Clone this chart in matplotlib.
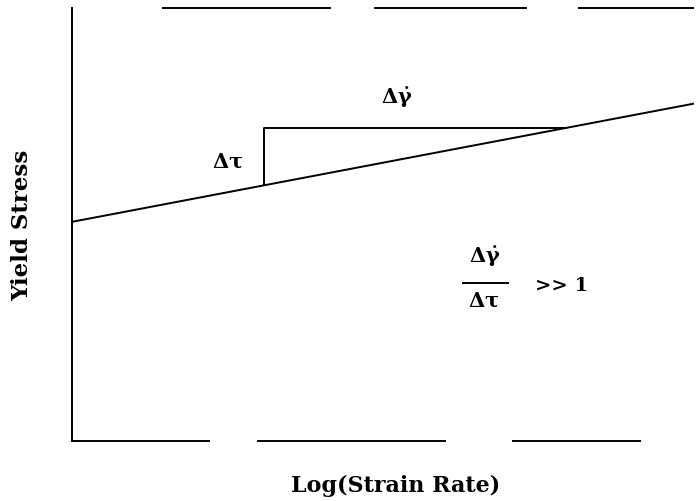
import matplotlib
matplotlib.use('Agg')
import matplotlib.pyplot as plt

# ---- data (arbitrary units: x = log strain rate, y = yield stress) ----
strain_x = [0.0, 10.0]
stress_y = [5.05, 7.77]

# slope triangle drawn on the yield line
tri_x = [3.09, 3.09, 7.96]
tri_y = [5.89, 7.21, 7.21]

# frame pieces (the printed border is broken into segments)
bottom_segs = [(0.0, 2.2), (3.0, 6.0), (7.1, 9.15)]
top_segs = [(1.46, 4.15), (4.88, 7.31), (8.16, 10.0)]

plt.rcParams['mathtext.fontset'] = 'custom'
plt.rcParams['mathtext.default'] = 'rm'
plt.rcParams['mathtext.rm'] = 'DejaVu Serif:bold'
plt.rcParams['mathtext.it'] = 'DejaVu Serif:bold'
plt.rcParams['mathtext.bf'] = 'DejaVu Serif:bold'

fig = plt.figure(figsize=(6.96, 5.01), dpi=100)
ax = fig.add_axes([72 / 696, 60 / 501, 621 / 696, 434 / 501])
ax.set_xlim(0, 10)
ax.set_ylim(0, 10)
for s in ax.spines.values():
    s.set_visible(False)
ax.set_xticks([])
ax.set_yticks([])

lw = 1.4
ax.plot([0, 0], [0, 9.98], color='black', lw=lw, clip_on=False)
for a, b in bottom_segs:
    ax.plot([a, b], [0, 0], color='black', lw=lw, clip_on=False)
for a, b in top_segs:
    ax.plot([a, b], [9.98, 9.98], color='black', lw=lw, clip_on=False)

ax.plot(strain_x, stress_y, color='black', lw=lw, clip_on=False)
ax.plot(tri_x, tri_y, color='black', lw=lw)

# annotations
ax.text(2.50, 6.43, r'$\Delta\tau$', fontsize=15, ha='center', va='center')
ax.text(5.23, 7.90, r'$\Delta\dot{\gamma}$', fontsize=15, ha='center', va='center')
ax.text(6.65, 4.25, r'$\Delta\dot{\gamma}$', fontsize=15, ha='center', va='center')
ax.plot([6.30, 7.02], [3.64, 3.64], color='black', lw=lw)
ax.text(6.63, 3.22, r'$\Delta\tau$', fontsize=15, ha='center', va='center')
ax.text(7.46, 3.57, '>> 1', fontsize=14, ha='left', va='center',
        family='DejaVu Serif', fontweight='bold')

fig.text(22 / 696, 1 - 225 / 501, 'Yield Stress', rotation=90,
         fontsize=16.5, fontweight='bold', family='DejaVu Serif',
         ha='center', va='center')
fig.text(396 / 696, 1 - 486 / 501, 'Log(Strain Rate)',
         fontsize=16, fontweight='bold', family='DejaVu Serif',
         ha='center', va='center')

plt.savefig('out.png', dpi=100)
